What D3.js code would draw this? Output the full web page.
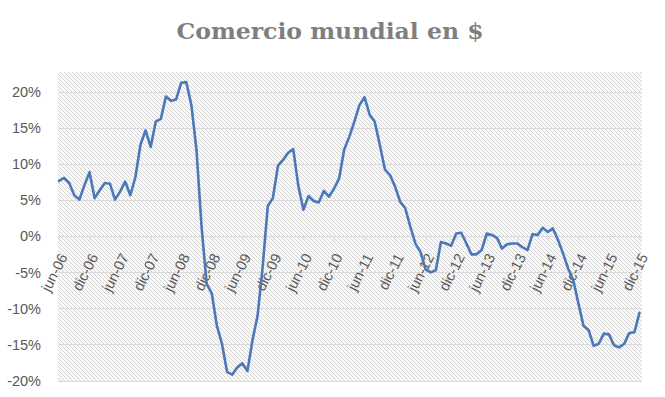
<!DOCTYPE html>
<html>
<head>
<meta charset="utf-8">
<script src="https://cdn.jsdelivr.net/npm/d3@7"></script>
<style>
  html, body { margin: 0; padding: 0; background: #fff; }
  svg { display: block; }
</style>
</head>
<body>
<div id="chart"></div>
<script>
// データ
const title = 'Comercio mundial en $';
const monthNames = ['ene', 'feb', 'mar', 'abr', 'may', 'jun', 'jul', 'ago', 'sep', 'oct', 'nov', 'dic'];
const startYear = 2006;
const startMonth = 5; // jun
// variación interanual (%), jun-06 .. dic-15
const values = [
  7.7, 8.1, 7.4, 5.7, 5.1, 7.1, 8.9, 5.3, 6.4, 7.4,
  7.3, 5.1, 6.2, 7.6, 5.7, 8.2, 12.7, 14.7, 12.4, 15.9,
  16.3, 19.4, 18.8, 19.0, 21.3, 21.4, 18.2, 12.0, 1.3, -6.6,
  -7.9, -12.4, -14.9, -18.8, -19.2, -18.2, -17.6, -18.7, -14.4, -11.0,
  -4.2, 4.2, 5.3, 9.8, 10.6, 11.6, 12.1, 7.0, 3.7, 5.6,
  4.9, 4.7, 6.3, 5.5, 6.6, 8.0, 12.0, 13.8, 15.9, 18.2,
  19.3, 16.9, 15.9, 12.7, 9.3, 8.5, 6.9, 4.8, 3.9, 1.3,
  -1.0, -2.2, -4.6, -5.0, -4.7, -0.8, -1.0, -1.3, 0.4, 0.5,
  -1.0, -2.5, -2.5, -1.9, 0.4, 0.2, -0.2, -1.7, -1.1, -1.0,
  -1.0, -1.5, -1.9, 0.3, 0.2, 1.2, 0.6, 1.1, -0.5, -2.4,
  -4.5, -6.1, -9.3, -12.4, -13.0, -15.2, -14.9, -13.5, -13.6, -15.1,
  -15.4, -14.9, -13.4, -13.3, -10.6
];
const yTicks = [-20, -15, -10, -5, 0, 5, 10, 15, 20];
const labelEvery = 6;

const config = {
  width: 665,
  height: 397,
  plot: { left: 58, right: 642, top: 72, bottom: 381 },
  yTop: 22.8,
  line: { color: '#4a78b8', width: 2.6 },
  grid: '#d9d9d9',
  text: '#595959',
  font: '"Liberation Sans", Arial, sans-serif',
};

// カテゴリ
const categories = values.map((v, i) => {
  const m = startMonth + i;
  const yy = String((startYear + Math.floor(m / 12)) % 100).padStart(2, '0');
  return `${monthNames[m % 12]}-${yy}`;
});

const svg = d3.select('#chart').append('svg')
  .attr('width', config.width)
  .attr('height', config.height);

svg.append('rect')
  .attr('width', config.width).attr('height', config.height)
  .attr('fill', '#fff');

// hatch pattern
const pat = svg.append('defs').append('pattern')
  .attr('id', 'hatch')
  .attr('patternUnits', 'userSpaceOnUse')
  .attr('width', 4).attr('height', 4);
pat.append('rect').attr('width', 4).attr('height', 4).attr('fill', '#fafafa');
pat.append('path')
  .attr('d', 'M-1,-1 L5,5 M-1,3 L1,5 M3,-1 L5,1')
  .attr('stroke', '#d4d4d4')
  .attr('stroke-width', 1);

const x = d3.scalePoint()
  .domain(categories)
  .range([config.plot.left + 1, config.plot.right - 2.5]);

const y = d3.scaleLinear()
  .domain([-20, config.yTop])
  .range([config.plot.bottom - 0.5, config.plot.top]);

// plot area
svg.append('rect')
  .attr('x', config.plot.left)
  .attr('y', config.plot.top)
  .attr('width', config.plot.right - config.plot.left)
  .attr('height', config.plot.bottom - config.plot.top)
  .attr('fill', 'url(#hatch)');

// gridlines
svg.append('g')
  .selectAll('line')
  .data(yTicks)
  .enter()
  .append('line')
  .attr('x1', config.plot.left)
  .attr('x2', config.plot.right)
  .attr('y1', d => Math.round(y(d)) + 0.5)
  .attr('y2', d => Math.round(y(d)) + 0.5)
  .attr('stroke', config.grid)
  .attr('stroke-width', 1);

// y axis labels
const yAxis = svg.append('g')
  .attr('transform', `translate(${config.plot.left - 14},0)`)
  .call(d3.axisLeft(y).tickValues(yTicks).tickSize(0).tickFormat(d => `${d}%`));
yAxis.select('.domain').remove();
yAxis.selectAll('text')
  .attr('fill', config.text)
  .attr('font-family', config.font)
  .attr('font-size', 14.5);

// x axis (at 0%)
const y0 = Math.round(y(0)) + 0.5;
const xAxis = svg.append('g')
  .attr('transform', `translate(0,${y0})`)
  .call(d3.axisBottom(x)
    .tickValues(categories.filter((d, i) => i % labelEvery === 0))
    .tickSize(5)
    .tickSizeOuter(0));
xAxis.select('.domain').attr('stroke', config.grid).attr('d', `M${config.plot.left},0H${config.plot.right}`);
xAxis.selectAll('.tick line').attr('stroke', config.grid);
xAxis.selectAll('.tick text')
  .attr('fill', config.text)
  .attr('font-family', config.font)
  .attr('font-size', 14.5)
  .attr('text-anchor', 'end')
  .attr('x', 0).attr('y', 0).attr('dy', '0.35em')
  .attr('transform', 'translate(4,18) rotate(-63)');

// line
const line = d3.line()
  .x((d, i) => x(categories[i]))
  .y(d => y(d));

svg.append('path')
  .datum(values)
  .attr('d', line)
  .attr('fill', 'none')
  .attr('stroke', config.line.color)
  .attr('stroke-width', config.line.width)
  .attr('stroke-linejoin', 'round')
  .attr('stroke-linecap', 'round');

// title
svg.append('text')
  .text(title)
  .attr('x', 330)
  .attr('y', 39)
  .attr('text-anchor', 'middle')
  .attr('font-family', '"DejaVu Serif", "Liberation Serif", serif')
  .attr('font-weight', 'bold')
  .attr('font-size', 22)
  .attr('fill', '#7f7f7f')
  .attr('textLength', 307)
  .attr('lengthAdjust', 'spacingAndGlyphs');
</script>
</body>
</html>
